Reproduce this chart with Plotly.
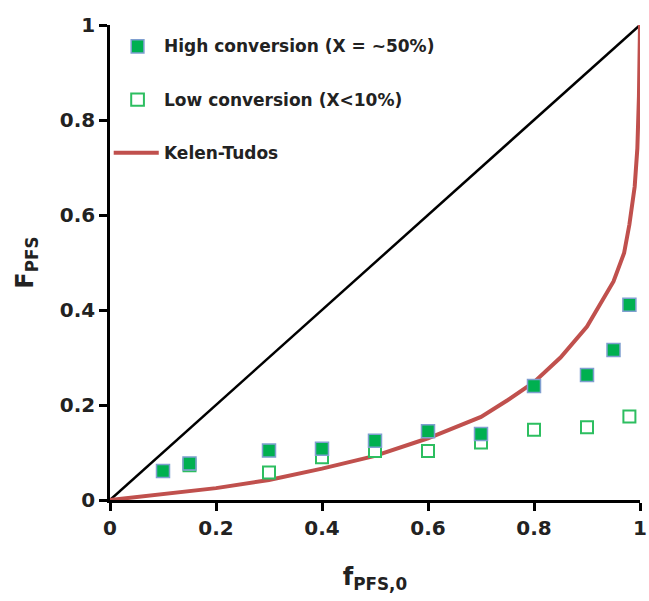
import plotly.graph_objects as go

# High conversion (filled squares)
high_f = [0.10, 0.15, 0.30, 0.40, 0.50, 0.60, 0.70, 0.80, 0.90, 0.95, 0.98]
high_F = [0.061, 0.077, 0.104, 0.108, 0.125, 0.145, 0.139, 0.240, 0.263, 0.316, 0.411]

# Low conversion (open squares)
low_f = [0.15, 0.30, 0.40, 0.50, 0.60, 0.70, 0.80, 0.90, 0.98]
low_F = [0.073, 0.058, 0.090, 0.103, 0.103, 0.121, 0.148, 0.153, 0.176]

# Kelen-Tudos curve
kt_f = [0, 0.05, 0.10, 0.15, 0.20, 0.30, 0.40, 0.50, 0.60, 0.70, 0.75, 0.80,
        0.85, 0.90, 0.93, 0.95, 0.97, 0.98, 0.99, 0.995, 0.998, 1.0]
kt_F = [0, 0.006, 0.013, 0.019, 0.025, 0.042, 0.066, 0.093, 0.130, 0.175, 0.210, 0.248,
        0.300, 0.365, 0.420, 0.460, 0.520, 0.580, 0.660, 0.740, 0.850, 1.0]

# Diagonal reference line
diag_f = [0, 1]
diag_F = [0, 1]

tick_vals = [0, 0.2, 0.4, 0.6, 0.8, 1]
tick_text = ["0", "0.2", "0.4", "0.6", "0.8", "1"]

FONT = "DejaVu Sans"

fig = go.Figure()
fig.add_trace(go.Scatter(x=diag_f, y=diag_F, mode="lines",
                         line=dict(color="black", width=2.5), showlegend=False))
fig.add_trace(go.Scatter(x=kt_f, y=kt_F, mode="lines", name="Kelen-Tudos",
                         line=dict(color="#C0504D", width=4), showlegend=False))
fig.add_trace(go.Scatter(x=low_f, y=low_F, mode="markers", name="Low conversion (X<10%)",
                         marker=dict(symbol="square", size=12, color="white",
                                     line=dict(color="#2DBE60", width=2)), showlegend=False))
fig.add_trace(go.Scatter(x=high_f, y=high_F, mode="markers", name="High conversion (X = ~50%)",
                         marker=dict(symbol="square", size=13, color="#00B050",
                                     line=dict(color="#7F9FD0", width=1.5)), showlegend=False))

# Legend drawn manually (paper coords)
legend_items = [
    ("High conversion (X = ~50%)", "filled"),
    ("Low conversion (X<10%)", "open"),
    ("Kelen-Tudos", "line"),
]
leg_y = [0.955, 0.843, 0.731]
for (label, kind), yy in zip(legend_items, leg_y):
    fig.add_annotation(x=0.098, y=yy, xref="paper", yref="paper", text=f"<b>{label}</b>",
                       showarrow=False, xanchor="left", yanchor="middle",
                       font=dict(family=FONT, size=17, color="#222"))
    if kind == "filled":
        fig.add_shape(type="rect", xref="paper", yref="paper",
                      x0=0.040, x1=0.064, y0=yy - 0.014, y1=yy + 0.014,
                      fillcolor="#00B050", line=dict(color="#7F9FD0", width=1.5))
    elif kind == "open":
        fig.add_shape(type="rect", xref="paper", yref="paper",
                      x0=0.040, x1=0.064, y0=yy - 0.013, y1=yy + 0.013,
                      fillcolor="white", line=dict(color="#2DBE60", width=2))
    else:
        fig.add_shape(type="line", xref="paper", yref="paper",
                      x0=0.007, x1=0.092, y0=yy, y1=yy,
                      line=dict(color="#C0504D", width=4))

fig.update_layout(
    width=649, height=601,
    margin=dict(l=110, r=9, t=25, b=101),
    plot_bgcolor="white", paper_bgcolor="white",
    font=dict(family=FONT, color="#222"),
)
fig.update_xaxes(range=[0, 1], tickvals=tick_vals, ticktext=tick_text, automargin=False,
                 showgrid=False, zeroline=False, showline=True, linecolor="black", linewidth=2.5,
                 ticks="outside", ticklen=8, tickwidth=2.5, tickcolor="black",
                 tickfont=dict(family=FONT, size=20, color="#222", weight="bold"),
                 title=dict(text="<b>f<sub>PFS,0</sub></b>", font=dict(family=FONT, size=24, color="#222"),
                            standoff=30))
fig.update_yaxes(range=[0, 1], tickvals=tick_vals, ticktext=tick_text, automargin=False,
                 showgrid=False, zeroline=False, showline=True, linecolor="black", linewidth=2.5,
                 ticks="outside", ticklen=8, tickwidth=2.5, tickcolor="black",
                 tickfont=dict(family=FONT, size=20, color="#222", weight="bold"),
                 title=dict(text="<b>F<sub>PFS</sub></b>", font=dict(family=FONT, size=24, color="#222"),
                            standoff=20))

fig.write_html("out.html")
